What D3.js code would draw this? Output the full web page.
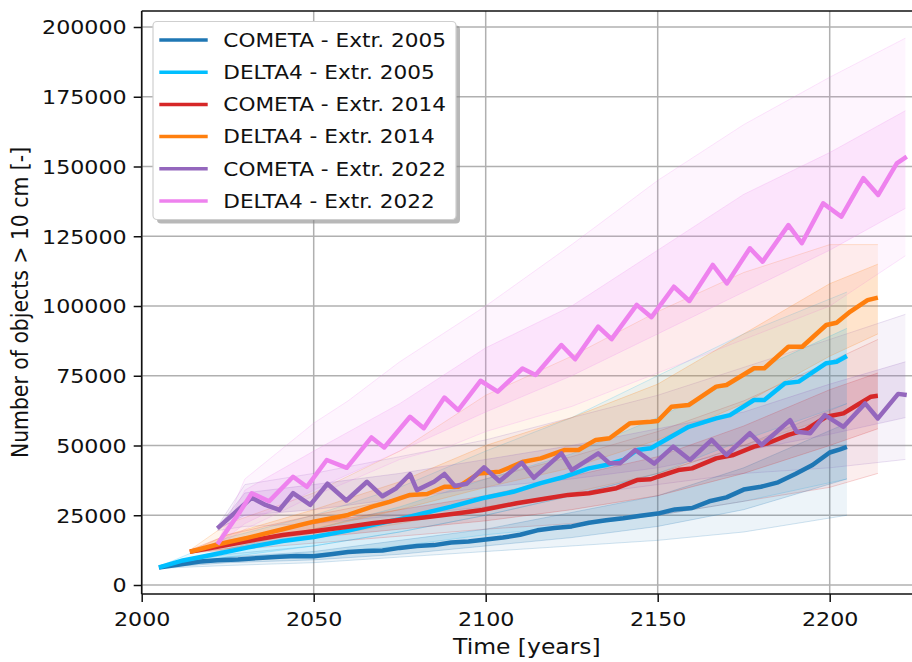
<!DOCTYPE html>
<html><head><meta charset="utf-8">
<script src="https://cdn.jsdelivr.net/npm/d3@7"></script>
<style>
body{margin:0;background:#fff;}
svg{display:block;}
text{font-family:"DejaVu Sans",sans-serif;fill:#111;}
</style>
</head><body>
<svg id="chart" width="912" height="662"></svg>
<script>
// ---------------- DATA ----------------
const seriesNames = ["COMETA - Extr. 2005","DELTA4 - Extr. 2005","COMETA - Extr. 2014","DELTA4 - Extr. 2014","COMETA - Extr. 2022","DELTA4 - Extr. 2022"];
const seriesColors = ["#1f77b4","#00bfff","#d62728","#ff7f0e","#9467bd","#ee82ee"];
const xTicks = [2000,2050,2100,2150,2200];
const yTicks = [0,25000,50000,75000,100000,125000,150000,175000,200000];

// main (mean) curves: [year, objects]
const cometa2005 = [[2005,6300],[2010,7200],[2017,8400],[2022,8900],[2028,9100],[2034,9700],[2040,10100],[2045,10400],[2050,10300],[2055,11000],[2060,11800],[2065,12200],[2070,12400],[2075,13300],[2080,14000],[2085,14300],[2090,15200],[2095,15600],[2100,16300],[2105,17000],[2110,18000],[2115,19600],[2120,20400],[2125,21000],[2130,22300],[2135,23200],[2140,23900],[2145,24800],[2150,25600],[2155,27100],[2160,27600],[2165,30000],[2170,31400],[2175,34200],[2180,35200],[2185,36800],[2190,39800],[2195,43000],[2200,47500],[2203,48600],[2205,49500]];
const delta2005 = [[2005,6300],[2012,8800],[2022,11200],[2031,13500],[2041,15800],[2050,17200],[2060,19500],[2067,21500],[2075,23600],[2082,25700],[2090,28100],[2099,31100],[2108,33400],[2116,36500],[2123,38800],[2130,41800],[2135,43000],[2140,44800],[2144,48400],[2148,49000],[2154,53200],[2159,56700],[2167,59700],[2171,60900],[2178,66300],[2181,66300],[2187,72300],[2191,72900],[2199,79500],[2202,80000],[2205,82100]];
const cometa2014 = [[2014,11900],[2022,13700],[2031,15800],[2041,17900],[2050,19300],[2060,20900],[2067,22100],[2075,23300],[2082,24200],[2092,25700],[2099,26900],[2109,29300],[2118,31100],[2124,32300],[2130,32900],[2138,34700],[2144,37600],[2148,37900],[2150,38800],[2156,41200],[2160,41800],[2167,45400],[2172,46600],[2178,49600],[2182,50800],[2188,53800],[2193,55600],[2199,60300],[2204,61500],[2208,64500],[2212,67500],[2214,67800]];
const delta2014 = [[2014,11900],[2022,14500],[2031,17000],[2041,20000],[2050,22700],[2060,25100],[2067,28100],[2072,29800],[2078,32300],[2083,32600],[2088,35200],[2092,35200],[2098,40000],[2104,40600],[2111,44200],[2116,45400],[2123,48400],[2127,48400],[2132,52000],[2136,52600],[2142,58000],[2148,58500],[2150,58800],[2154,63900],[2159,64500],[2167,71100],[2170,71700],[2178,77700],[2181,77700],[2188,85400],[2192,85400],[2199,93200],[2202,94000],[2206,98000],[2211,102100],[2214,103000]];
const cometa2022 = [[2022,20300],[2032,31300],[2036,28700],[2040,26900],[2044,32900],[2049,28700],[2054,36300],[2059.5,30300],[2065.5,37000],[2070,31800],[2074,34700],[2078,39700],[2080,34000],[2085,37000],[2088,39800],[2091,35500],[2094.5,36300],[2099.5,42200],[2104,37200],[2110.5,43800],[2114,38400],[2122,47200],[2125,41200],[2132.7,47200],[2136,43600],[2139,43600],[2143.5,48400],[2149,43500],[2154.5,49600],[2159.4,44800],[2165.7,52000],[2170,46600],[2176.8,54400],[2180.2,50200],[2188.5,59100],[2190.4,54900],[2194.3,54400],[2198.6,60900],[2204,56700],[2210.3,65100],[2214,59700],[2219.9,68500],[2222.4,68100]];
const delta2022 = [[2022,14600],[2028.6,26300],[2032,32900],[2037,30000],[2044,38800],[2048,35200],[2053.8,44800],[2059.6,42000],[2066.8,52900],[2070.5,49300],[2078,60300],[2082,56200],[2088,67200],[2092,62700],[2098.5,73200],[2103.5,69300],[2110.7,77600],[2114.5,75300],[2122,86000],[2126,80900],[2132.7,92600],[2136.6,88100],[2143.9,100400],[2148.2,96000],[2154.7,106900],[2159.2,101800],[2166,114700],[2170.1,108100],[2176.8,120700],[2180.5,115900],[2188,129000],[2191.9,122500],[2198.1,136800],[2203.4,132000],[2209.8,145800],[2214.1,139800],[2219.5,151100],[2222.4,153500]];

// full spread of the individual runs (faint cloud): [year, low, high]
const cometa2005Spread = [[2005,6000,6600],[2025,7000,11000],[2050,8000,14000],[2075,10000,19000],[2100,12000,25000],[2125,14000,32000],[2150,16000,40000],[2175,19000,50000],[2205,25000,65000]];
const delta2005Spread = [[2005,6000,6600],[2025,9000,17000],[2050,11000,25000],[2075,14000,35000],[2100,18000,48000],[2125,21000,60000],[2150,25000,75000],[2175,30000,90000],[2205,38000,105000]];
const cometa2014Spread = [[2014,11500,12500],[2025,12500,18000],[2050,15000,25000],[2075,17500,31000],[2100,20000,38000],[2125,22000,46000],[2150,25000,55000],[2175,30000,66000],[2200,35000,80000],[2214,40000,88000]];
const delta2014Spread = [[2014,11500,12500],[2025,13000,22000],[2050,17000,33000],[2075,22000,48000],[2100,28000,68000],[2125,33000,82000],[2150,40000,98000],[2175,50000,112000],[2200,60000,122000],[2214,68000,122000]];
const cometa2022Spread = [[2022,19500,21000],[2030,21000,36000],[2050,22000,40000],[2075,25000,46000],[2100,28000,52000],[2125,32000,60000],[2150,36000,68000],[2175,40000,78000],[2200,42000,88000],[2222,45000,97000]];
const delta2022Spread = [[2022,14000,15000],[2030,20000,38000],[2040,26000,48000],[2050,32000,58000],[2060,37000,66000],[2075,45000,80000],[2090,50000,92000],[2100,55000,100000],[2125,64000,122000],[2150,76000,145000],[2175,88000,165000],[2200,100000,182000],[2222,118000,196000]];

// dense core of the runs: [year, low, high]
const cometa2005Core = [[2005,6200,6400],[2025,8000,10000],[2050,9000,12000],[2075,11000,16000],[2100,14000,20000],[2125,17000,26000],[2150,21000,32000],[2175,27000,42000],[2205,38000,58000]];
const delta2005Core = [[2005,6200,6400],[2025,10000,13000],[2050,14000,20000],[2075,19000,28000],[2100,25000,38000],[2125,32000,47000],[2150,40000,60000],[2175,52000,75000],[2205,65000,92000]];
const cometa2014Core = [[2014,11800,12000],[2025,13000,16000],[2050,17000,22000],[2075,20000,27000],[2100,23000,32000],[2125,27000,39000],[2150,32000,46000],[2175,40000,57000],[2200,50000,70000],[2214,56000,76000]];
const delta2014Core = [[2014,11800,12000],[2025,14000,18000],[2050,20000,27000],[2075,27000,37000],[2100,35000,50000],[2125,42000,60000],[2150,52000,72000],[2175,65000,90000],[2200,82000,108000],[2214,90000,115000]];
const cometa2022Core = [[2022,20000,20600],[2030,25000,33000],[2050,27000,36000],[2075,31000,40000],[2100,35000,45000],[2125,38000,50000],[2150,42000,56000],[2175,48000,62000],[2200,54000,72000],[2222,60000,80000]];
const delta2022Core = [[2022,14300,14900],[2030,22000,34000],[2050,34000,48000],[2075,48000,65000],[2100,62000,85000],[2125,75000,100000],[2150,90000,120000],[2175,105000,140000],[2200,120000,155000],[2222,135000,170000]];

const mainSeries = [cometa2005, delta2005, cometa2014, delta2014, cometa2022, delta2022];
const spreadSeries = [cometa2005Spread, delta2005Spread, cometa2014Spread, delta2014Spread, cometa2022Spread, delta2022Spread];
const coreSeries = [cometa2005Core, delta2005Core, cometa2014Core, delta2014Core, cometa2022Core, delta2022Core];

// ---------------- LAYOUT ----------------
const SX = 1.15;          // horizontal text stretch of the reference
const L = 141.7, R = 913, T = 11, B = 594;
const x = d3.scaleLinear().domain([2000, 2000 + (R - L) / 3.44]).range([L, R]);
const y = d3.scaleLinear().domain([-3226, 205735]).range([B, T]);

const svg = d3.select("#chart");
svg.append("rect").attr("width",912).attr("height",662).attr("fill","#fff");
svg.append("defs").append("clipPath").attr("id","clip")
  .append("rect").attr("x",L).attr("y",T).attr("width",R-L).attr("height",B-T);

// grid
const grid = svg.append("g");
grid.selectAll(".gx").data(xTicks).join("line")
  .attr("x1",d=>x(d)).attr("x2",d=>x(d)).attr("y1",T).attr("y2",B)
  .attr("stroke","#b0b0b0").attr("stroke-width",1.5);
grid.selectAll(".gy").data(yTicks).join("line")
  .attr("x1",L).attr("x2",R).attr("y1",d=>y(d)).attr("y2",d=>y(d))
  .attr("stroke","#b0b0b0").attr("stroke-width",1.5);

const plot = svg.append("g").attr("clip-path","url(#clip)");

// spread clouds
const area = d3.area().x(d=>x(d[0])).y0(d=>y(d[1])).y1(d=>y(d[2]));
const lineLo = d3.line().x(d=>x(d[0])).y(d=>y(d[1]));
const lineHi = d3.line().x(d=>x(d[0])).y(d=>y(d[2]));
spreadSeries.forEach((s,i)=>{
  plot.append("path").attr("d",area(s)).attr("fill",seriesColors[i]).attr("fill-opacity",0.08).attr("stroke","none");
  plot.append("path").attr("d",lineLo(s)).attr("fill","none").attr("stroke",seriesColors[i]).attr("stroke-opacity",0.2).attr("stroke-width",1);
  plot.append("path").attr("d",lineHi(s)).attr("fill","none").attr("stroke",seriesColors[i]).attr("stroke-opacity",0.2).attr("stroke-width",1);
});
coreSeries.forEach((s,i)=>{
  plot.append("path").attr("d",area(s)).attr("fill",seriesColors[i]).attr("fill-opacity",0.14).attr("stroke","none");
  plot.append("path").attr("d",lineLo(s)).attr("fill","none").attr("stroke",seriesColors[i]).attr("stroke-opacity",0.22).attr("stroke-width",1);
  plot.append("path").attr("d",lineHi(s)).attr("fill","none").attr("stroke",seriesColors[i]).attr("stroke-opacity",0.22).attr("stroke-width",1);
});

// main curves
const line = d3.line().x(d=>x(d[0])).y(d=>y(d[1]));
mainSeries.forEach((s,i)=>{
  plot.append("path").attr("d",line(s)).attr("fill","none")
    .attr("stroke",seriesColors[i]).attr("stroke-width",4.5)
    .attr("stroke-linejoin","round").attr("stroke-linecap","butt");
});

// axes
const tickFont = 19.3;
const yAxis = svg.append("g").attr("transform",`translate(${L},0)`)
  .call(d3.axisLeft(y).tickValues(yTicks).tickSize(8).tickPadding(7).tickFormat(d3.format("d")));
const xAxis = svg.append("g").attr("transform",`translate(0,${B})`)
  .call(d3.axisBottom(x).tickValues(xTicks).tickSize(8).tickPadding(10).tickFormat(d3.format("d")));
[yAxis,xAxis].forEach(a=>{
  a.select(".domain").remove();
  a.selectAll(".tick line").attr("stroke","#111").attr("stroke-width",1.5);
  a.selectAll(".tick text").attr("font-size",tickFont).attr("fill","#111").style("font-family","DejaVu Sans");
});
yAxis.selectAll(".tick text").each(function(){
  const t=d3.select(this); const xx=+t.attr("x");
  t.attr("x",0).attr("dy",null).attr("y",0).attr("transform",`translate(${xx},${0.36*tickFont}) scale(${SX},1)`);
});
xAxis.selectAll(".tick text").each(function(){
  const t=d3.select(this); const yy=+t.attr("y");
  t.attr("y",0).attr("dy",null).attr("transform",`translate(0,${yy+0.73*tickFont}) scale(${SX},1)`);
});

// spines
const sp = svg.append("g").attr("stroke","#111").attr("stroke-width",1.6).attr("fill","none");
sp.append("line").attr("x1",L).attr("x2",L).attr("y1",T).attr("y2",B);
sp.append("line").attr("x1",L).attr("x2",R).attr("y1",B).attr("y2",B);
sp.append("line").attr("x1",L).attr("x2",R).attr("y1",T).attr("y2",T);
sp.append("line").attr("x1",R).attr("x2",R).attr("y1",T).attr("y2",B);

// axis labels
const labelFont = 20.4;
svg.append("text").attr("text-anchor","middle").attr("font-size",labelFont)
  .attr("transform",`translate(${(L+912)/2},654) scale(${SX},1)`).text("Time [years]");
svg.append("text").attr("text-anchor","middle").attr("font-size",labelFont)
  .attr("transform",`translate(28,${(T+B)/2}) rotate(-90) scale(1,${SX})`).text("Number of objects > 10 cm [-]");

// legend
const legFont = 18.8;
const lg = svg.append("g");
const lx = 153, ly = 21.5, lw = 303, lh = 198;
lg.append("rect").attr("x",lx+4).attr("y",ly+4).attr("width",lw).attr("height",lh).attr("rx",4)
  .attr("fill","#888").attr("fill-opacity",0.6);
lg.append("rect").attr("x",lx).attr("y",ly).attr("width",lw).attr("height",lh).attr("rx",4)
  .attr("fill","#fff").attr("stroke","#cfcfcf").attr("stroke-width",1.2);
const rows = lg.selectAll(".row").data(seriesNames).join("g")
  .attr("transform",(d,i)=>`translate(0,${40 + i*32.2})`);
rows.append("line").attr("x1",159.3).attr("x2",207.7).attr("y1",0).attr("y2",0)
  .attr("stroke",(d,i)=>seriesColors[i]).attr("stroke-width",3.5);
rows.append("text").attr("font-size",legFont)
  .attr("transform",`translate(223.3,${0.364*legFont}) scale(${SX},1)`).text(d=>d);
</script>
</body></html>
